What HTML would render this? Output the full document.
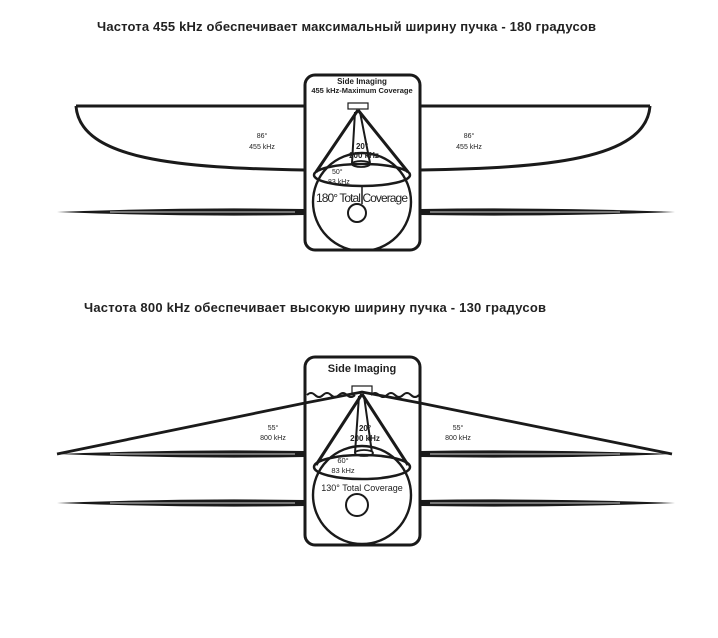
<!DOCTYPE html>
<html><head><meta charset="utf-8"><style>
html,body{margin:0;padding:0;background:#fff;}
svg{display:block;}
text{font-family:"Liberation Sans",sans-serif;}
</style></head><body>
<svg width="718" height="638" viewBox="0 0 718 638" xmlns="http://www.w3.org/2000/svg">
<defs>
<clipPath id="c1"><rect x="306" y="76" width="113" height="173" rx="9"/></clipPath>
<clipPath id="c2"><rect x="306" y="358" width="113" height="186" rx="9"/></clipPath>
</defs>
<g fill="none" stroke="#1a1a1a" stroke-width="3">
<path d="M76 106 L650 106"/>
<path d="M76 106 C80 160 180 168 305 170"/>
<path d="M650 106 C646 160 545 168 420 170"/>
<path d="M305 170 L420 170" stroke-width="2"/>
<g stroke="none" fill="#1a1a1a">
<path d="M57 212 Q180 207 305 209 L305 215 Q180 217 57 212 Z"/>
<path d="M675 212 Q550 207 420 209 L420 215 Q550 217 675 212 Z"/>
<path d="M57 454 Q180 449 305 451 L305 457 Q180 459 57 454 Z"/>
<path d="M672 454 Q550 449 420 451 L420 457 Q550 459 672 454 Z"/>
<path d="M57 503 Q180 498 305 500 L305 506 Q180 508 57 503 Z"/>
<path d="M675 503 Q550 498 420 500 L420 506 Q550 508 675 503 Z"/>
</g>
<g stroke="#fff" stroke-width="1" opacity="0.8">
<path d="M110 212 L295 212 M430 212 L620 212 M110 454 L295 454 M430 454 L620 454 M110 503 L295 503 M430 503 L620 503"/>
</g>
<rect x="305" y="75" width="115" height="175" rx="10" fill="#fff"/>
<circle cx="362" cy="202" r="49" stroke-width="2.4" clip-path="url(#c1)"/>
<circle cx="357" cy="213" r="9" stroke-width="2"/>
<path d="M362 186 L362 204" stroke-width="1.5"/>
<path d="M358 110 L316 172 M358 110 L408 172"/>
<path d="M355 112 L352 163 M360 112 L370 163" stroke-width="2"/>
<ellipse cx="361" cy="164" rx="9" ry="3" stroke-width="1.8" fill="#fff"/>
<ellipse cx="362" cy="175" rx="48" ry="11" stroke-width="2.5"/>
<rect x="348" y="103" width="20" height="6" stroke-width="1.2"/>
<path d="M57 454 L305 403" stroke-width="2.8"/>
<path d="M672 454 L420 403" stroke-width="2.8"/>
<rect x="305" y="357" width="115" height="188" rx="10" fill="#fff"/>
<path d="M307 395 q4 -4 8 0 q4 4 8 0 q4 -4 8 0 q4 4 8 0 q4 -4 8 0 q4 4 8 0 M371 395 q4 -4 8 0 q4 4 8 0 q4 -4 8 0 q4 4 8 0 q4 -4 8 0 q4 4 8 0" stroke-width="2"/>
<path d="M305 403 L362 392 L420 403" stroke-width="2.8"/>
<circle cx="362" cy="495" r="49" stroke-width="2.4" clip-path="url(#c2)"/>
<circle cx="357" cy="505" r="11" stroke-width="2"/>
<path d="M362 394 L316 465 M362 394 L408 465"/>
<path d="M359 396 L355 453 M364 396 L372 453" stroke-width="2"/>
<ellipse cx="364" cy="453" rx="9" ry="3" stroke-width="1.8" fill="#fff"/>
<ellipse cx="362" cy="467" rx="48" ry="12" stroke-width="2.5"/>
<rect x="352" y="386" width="20" height="7" stroke-width="1.2"/>
</g>
<g fill="#222">
<text x="97" y="31" font-size="13" font-weight="bold" textLength="499">Частота 455 kHz обеспечивает максимальный ширину пучка  - 180 градусов</text>
<text x="84" y="312" font-size="13" font-weight="bold" textLength="462">Частота 800 kHz обеспечивает  высокую  ширину пучка - 130 градусов</text>
<text x="362" y="84" font-size="8" font-weight="bold" text-anchor="middle">Side Imaging</text>
<text x="362" y="93" font-size="7.5" font-weight="bold" text-anchor="middle">455 kHz-Maximum Coverage</text>
<text x="262" y="138" font-size="7" text-anchor="middle">86°</text>
<text x="262" y="149" font-size="7" text-anchor="middle">455 kHz</text>
<text x="469" y="138" font-size="7" text-anchor="middle">86°</text>
<text x="469" y="149" font-size="7" text-anchor="middle">455 kHz</text>
<text x="362" y="149" font-size="8" font-weight="bold" text-anchor="middle">20°</text>
<text x="364" y="158" font-size="8" font-weight="bold" text-anchor="middle">200 kHz</text>
<text x="332" y="174" font-size="7">50°</text>
<text x="328" y="184" font-size="7">83 kHz</text>
<text x="362" y="202" font-size="12" text-anchor="middle" textLength="92">180° Total Coverage</text>
<text x="362" y="372" font-size="11" font-weight="bold" text-anchor="middle">Side Imaging</text>
<text x="273" y="430" font-size="7" text-anchor="middle">55°</text>
<text x="273" y="440" font-size="7" text-anchor="middle">800 kHz</text>
<text x="458" y="430" font-size="7" text-anchor="middle">55°</text>
<text x="458" y="440" font-size="7" text-anchor="middle">800 kHz</text>
<text x="365" y="431" font-size="8" font-weight="bold" text-anchor="middle">20°</text>
<text x="365" y="441" font-size="8" font-weight="bold" text-anchor="middle">200 kHz</text>
<text x="343" y="463" font-size="7.5" text-anchor="middle">60°</text>
<text x="343" y="473" font-size="7.5" text-anchor="middle">83 kHz</text>
<text x="362" y="491" font-size="9" text-anchor="middle">130° Total Coverage</text>
</g>
</svg>
</body></html>
